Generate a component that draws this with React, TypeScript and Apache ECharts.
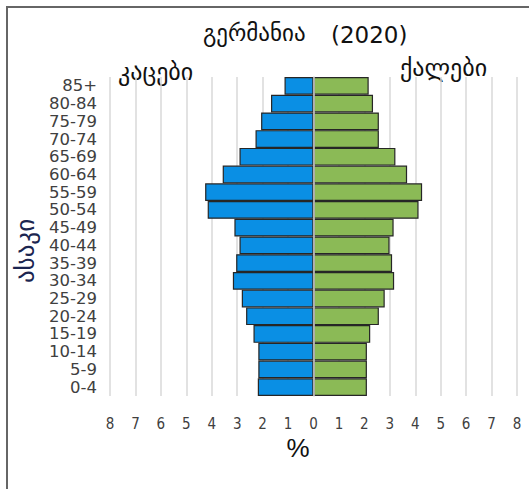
import React, { useEffect, useRef } from "react";
import * as echarts from "echarts";

const ageGroups = ["0-4","5-9","10-14","15-19","20-24","25-29","30-34","35-39","40-44","45-49","50-54","55-59","60-64","65-69","70-74","75-79","80-84","85+"];
const menValues = [2.19,2.17,2.17,2.36,2.65,2.82,3.17,3.04,2.91,3.11,4.16,4.26,3.57,2.91,2.28,2.06,1.67,1.14];
const womenValues = [2.10,2.10,2.10,2.23,2.57,2.80,3.17,3.09,2.99,3.15,4.13,4.27,3.68,3.22,2.57,2.57,2.34,2.17];
const titleText = "გერმანია";
const yearText = "(2020)";
const menLabel = "კაცები";
const womenLabel = "ქალები";
const ageLabel = "ასაკი";
const unitLabel = "%";

export default function App() {
  const ref = useRef<HTMLDivElement>(null);
  useEffect(() => {
    if (!ref.current) return;
    const chart = echarts.init(ref.current, null, { renderer: "svg" });
    const narrow = "'Liberation Sans Narrow', 'DejaVu Sans Condensed', sans-serif";
    const geo = "'DejaVu Sans', sans-serif";
    chart.setOption({
      animation: false,
      backgroundColor: "#ffffff",
      grid: { left: 110, right: 12, top: 77, bottom: 93 },
      xAxis: {
        type: "value",
        min: -8,
        max: 8,
        interval: 1,
        axisLine: { show: false },
        axisTick: { show: false },
        splitLine: { show: true, lineStyle: { color: "#d9d9d9", width: 1.5 } },
        axisLabel: {
          margin: 20,
          color: "#404040",
          fontFamily: narrow,
          fontSize: 15,
          formatter: (v: number) => String(Math.abs(v)),
        },
      },
      yAxis: {
        type: "category",
        data: ageGroups,
        z: 5,
        axisLine: { show: true, onZero: true, lineStyle: { color: "#d0d0d0", width: 1.5 } },
        axisTick: { show: false },
        axisLabel: {
          interval: 0,
          margin: 13,
          color: "#404040",
          fontFamily: "'DejaVu Sans', sans-serif",
          fontSize: 16.5,
        },
      },
      series: [
        {
          name: menLabel,
          type: "bar",
          data: menValues.map((v) => -v),
          barWidth: "100%",
          barGap: "-100%",
          itemStyle: { color: "#0a8fe4", borderColor: "#262626", borderWidth: 1.2 },
        },
        {
          name: womenLabel,
          type: "bar",
          data: womenValues,
          barWidth: "100%",
          barGap: "-100%",
          itemStyle: { color: "#8bba56", borderColor: "#262626", borderWidth: 1.2 },
        },
      ],
      graphic: [
        {
          type: "polyline",
          shape: { points: [[7, 520], [7, 7], [540, 7]] },
          style: { stroke: "#666666", lineWidth: 2, fill: null },
          silent: true,
        },
        {
          type: "text",
          x: 203,
          y: 33,
          style: { text: titleText, fontSize: 23, fontFamily: geo, fill: "#111111", verticalAlign: "middle" },
        },
        {
          type: "text",
          x: 331,
          y: 35,
          style: { text: yearText, fontSize: 23, fontFamily: "'DejaVu Sans', sans-serif", fill: "#111111", verticalAlign: "middle" },
        },
        {
          type: "text",
          x: 118,
          y: 72,
          style: { text: menLabel, fontSize: 24, fontFamily: geo, fill: "#111111", verticalAlign: "middle" },
        },
        {
          type: "text",
          x: 400,
          y: 68,
          style: { text: womenLabel, fontSize: 24, fontFamily: geo, fill: "#111111", verticalAlign: "middle" },
        },
        {
          type: "text",
          x: 25,
          y: 251,
          rotation: Math.PI / 2,
          style: { text: ageLabel, fontSize: 25, fontFamily: geo, fill: "#1b2550", align: "center", verticalAlign: "middle" },
        },
        {
          type: "text",
          x: 298,
          y: 448,
          style: { text: unitLabel, fontSize: 26, fontFamily: "'Liberation Sans', sans-serif", fill: "#111111", align: "center", verticalAlign: "middle" },
        },
      ],
    });
    return () => chart.dispose();
  }, []);
  return (
    <div
      ref={ref}
      style={{ position: "absolute", left: 0, top: 0, width: 529, height: 489 }}
    />
  );
}
